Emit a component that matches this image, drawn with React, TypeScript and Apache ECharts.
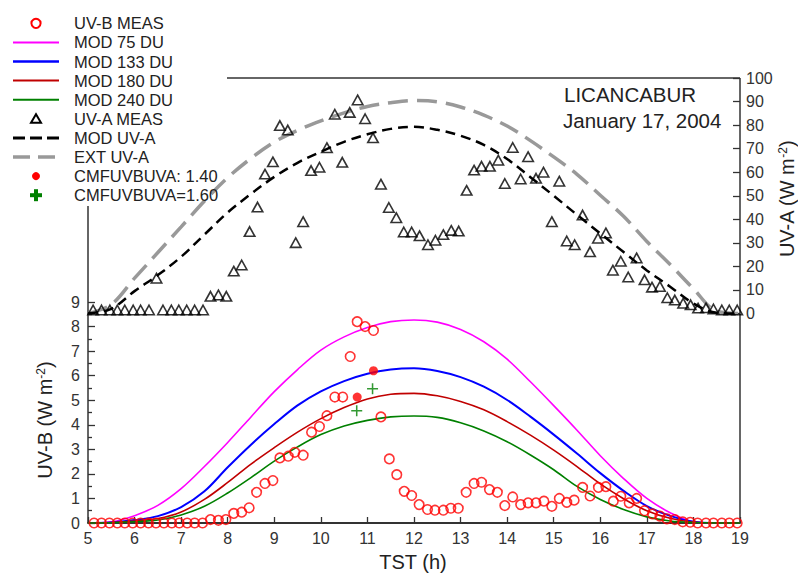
import React, { useEffect, useRef } from 'react';
import * as echarts from 'echarts';

const FF = 'Liberation Sans, Arial, Helvetica, sans-serif';

// ---------- DATA ----------
const xTickMin = 5;
const xTickMax = 19;

// UV-B measured (W m-2), time in TST hours
const uvbT = [5.13, 5.29, 5.46, 5.63, 5.79, 5.96, 6.13, 6.30, 6.46, 6.63, 6.80, 6.96, 7.13, 7.29, 7.46,
  7.63, 7.80, 7.96, 8.13, 8.30, 8.46, 8.62, 8.80, 8.97, 9.12, 9.30, 9.44, 9.62, 9.80, 9.97,
  10.13, 10.30, 10.47, 10.63, 10.78, 10.95, 11.13, 11.29, 11.47, 11.63, 11.79, 11.95,
  12.11, 12.29, 12.45, 12.63, 12.79, 12.95, 13.12, 13.29, 13.45, 13.62, 13.79, 13.95,
  14.12, 14.29, 14.45, 14.62, 14.79, 14.96, 15.12, 15.28, 15.44, 15.62, 15.78, 15.96,
  16.12, 16.28, 16.44, 16.62, 16.78, 16.95, 17.12, 17.28, 17.43, 17.60, 17.77, 17.93,
  18.09, 18.27, 18.43, 18.61, 18.77, 18.94];
const uvbV = [0, 0, 0, 0, 0, 0, 0, 0, 0, 0, 0, 0, 0, 0, 0,
  0.14, 0.11, 0.14, 0.39, 0.44, 0.62, 1.25, 1.61, 1.73, 2.65, 2.72, 2.88, 2.76, 3.7, 3.93,
  4.37, 5.13, 5.13, 6.78, 8.20, 8.00, 7.84, 4.32, 2.61, 1.97, 1.29, 1.12,
  0.75, 0.55, 0.52, 0.52, 0.6, 0.6, 1.25, 1.61, 1.66, 1.36, 1.25, 0.71,
  1.06, 0.75, 0.82, 0.82, 0.89, 0.68, 1.0, 0.84, 0.93, 1.45, 1.1, 1.45,
  1.48, 0.89, 1.09, 0.82, 1.0, 0.5, 0.37, 0.28, 0.17, 0.14, 0.05, 0.03,
  0, 0, 0, 0, 0, 0];

// UV-A measured (W m-2)
const uvaT = [5.11, 5.29, 5.47, 5.63, 5.79, 5.97, 6.13, 6.31, 6.47, 6.61, 6.79, 6.95, 7.12, 7.29, 7.47,
  7.63, 7.80, 7.97, 8.13, 8.30, 8.47, 8.64, 8.80, 8.97, 9.12, 9.29, 9.46, 9.62, 9.79, 9.97,
  10.13, 10.30, 10.46, 10.62, 10.79, 10.95, 11.12, 11.29, 11.46, 11.62, 11.78, 11.95,
  12.12, 12.30, 12.46, 12.63, 12.80, 12.96, 13.13, 13.29, 13.45, 13.63, 13.81, 13.95,
  14.12, 14.29, 14.45, 14.62, 14.78, 14.96, 15.12, 15.28, 15.45, 15.62, 15.78, 15.95,
  16.12, 16.27, 16.44, 16.60, 16.78, 16.95, 17.11, 17.28, 17.44, 17.60, 17.78, 17.94,
  18.10, 18.27, 18.43, 18.61, 18.77, 18.94];
const uvaV = [1.5, 1.5, 1.5, 1.5, 1.5, 1.5, 1.5, 1.5, 15, 1.5, 1.5, 1.5, 1.5, 1.5, 1.5,
  7.3, 7.9, 7.3, 18, 20.6, 34.8, 45.2, 59.2, 64.4, 79.8, 77.9, 30.1, 39, 60.7, 62.1,
  70.4, 84.6, 64.2, 85.4, 90.7, 82.7, 74.6, 54.9, 45, 40.7, 34.6, 34.6,
  33.0, 29.2, 31.1, 33.5, 35.3, 35.0, 52.3, 60.9, 62.5, 62.5, 65.1, 55.2,
  70.5, 57.1, 66.6, 57.4, 60.0, 39.0, 56.2, 30.8, 29.2, 41.8, 26.2, 32.0,
  34.2, 18.4, 22.2, 15.5, 23.6, 14.3, 11.2, 11.5, 6.7, 5.7, 4.4, 3.7,
  2.3, 2.4, 1.9, 1.5, 1.5, 1.5];

// Model curves (half-hourly)
const modT = [5, 5.5, 6, 6.5, 7, 7.5, 8, 8.5, 9, 9.5, 10, 10.5, 11, 11.5, 12, 12.5, 13, 13.5, 14, 14.5, 15, 15.5, 16, 16.5, 17, 17.5, 18, 18.5, 19];
const mod75 = [0, 0.05, 0.3, 0.72, 1.4, 2.3, 3.28, 4.32, 5.35, 6.25, 7.04, 7.58, 7.96, 8.2, 8.27, 8.18, 7.88, 7.38, 6.67, 5.75, 4.78, 3.78, 2.74, 1.81, 1.0, 0.42, 0.05, 0, 0];
const mod133 = [0, 0.02, 0.12, 0.28, 0.65, 1.29, 2.27, 3.19, 4.03, 4.79, 5.36, 5.78, 6.08, 6.25, 6.3, 6.19, 5.94, 5.55, 5.01, 4.33, 3.6, 2.83, 2.03, 1.31, 0.69, 0.29, 0.05, 0, 0];
const mod180 = [0, 0.02, 0.08, 0.18, 0.45, 0.96, 1.65, 2.4, 3.07, 3.7, 4.25, 4.7, 5.05, 5.24, 5.28, 5.18, 4.95, 4.61, 4.13, 3.58, 2.97, 2.3, 1.59, 0.99, 0.5, 0.19, 0.03, 0, 0];
const mod240 = [0, 0.01, 0.05, 0.12, 0.33, 0.68, 1.22, 1.85, 2.52, 3.1, 3.6, 3.95, 4.18, 4.32, 4.36, 4.3, 4.08, 3.75, 3.31, 2.77, 2.17, 1.49, 0.96, 0.55, 0.25, 0.08, 0.02, 0, 0];
const modUva = [0, 2, 9.5, 16.3, 24.1, 33.5, 42.9, 50.8, 58, 64, 68.7, 72.9, 76.1, 78.4, 79.3, 78, 75.5, 71.6, 65.6, 57.9, 50, 41.9, 34, 26.1, 18.3, 11.4, 4.3, 0.3, 0];
const extUva = [0, 3.8, 15, 25.9, 36.8, 47.8, 57.7, 65.9, 72.8, 77.8, 81.8, 85.2, 87.9, 89.5, 90.4, 89.9, 87.7, 84.2, 79.6, 73.4, 66.5, 59.1, 50.2, 41.3, 30.6, 20.8, 10.5, 1.0, 0];

// Derived UV-B from CMF ratios
const cmf140T = [10.78, 11.13];
const cmf140V = [5.13, 6.2];
const cmf160T = [10.77, 11.11];
const cmf160V = [4.57, 5.47];

const legendLabels = ['UV-B MEAS', 'MOD 75 DU', 'MOD 133 DU', 'MOD 180 DU', 'MOD 240 DU', 'UV-A MEAS', 'MOD UV-A', 'EXT UV-A', 'CMFUVBUVA: 1.40', 'CMFUVBUVA=1.60'];
const titleLines = ['LICANCABUR', 'January 17, 2004'];
const xTitle = 'TST (h)';

// ---------- HELPERS ----------
const zip = (t: number[], v: number[]) => t.map((x, i) => [x, v[i]]);

const PLUS = 'path://M4.3,0h1.4v4.3h4.3v1.4h-4.3v4.3h-1.4v-4.3h-4.3v-1.4h4.3z';

function buildOption() {
  const axisLabel = { fontSize: 16, color: '#333', fontFamily: FF };
  const tickStyle = { color: '#333', width: 1.3 };

  const lineSeries = (name: string, vals: number[], color: string, width: number, grid: number, type: any = 'solid') => ({
    name, type: 'line', xAxisIndex: grid, yAxisIndex: grid,
    data: zip(modT, vals), showSymbol: false, symbol: 'none', smooth: 0.35, clip: false,
    lineStyle: { color, width, type, cap: 'butt' }, z: 3, silent: true,
  });

  const graphic: any[] = [];
  // frame
  const frame = { stroke: '#333', lineWidth: 1.5 };
  graphic.push({ type: 'line', shape: { x1: 227, y1: 78, x2: 740, y2: 78 }, style: frame, z: 1 });
  graphic.push({ type: 'line', shape: { x1: 740, y1: 78, x2: 740, y2: 523 }, style: frame, z: 1 });
  graphic.push({ type: 'line', shape: { x1: 88, y1: 206, x2: 88, y2: 523 }, style: frame, z: 1 });

  // legend
  const lx = 36, lx1 = 13, lx2 = 59;
  legendLabels.forEach((label, i) => {
    const y = 23.3 + 19.1 * i;
    graphic.push({ type: 'text', x: 74, y, style: { text: label, fontSize: 16.5, fontFamily: FF, fill: '#222', verticalAlign: 'middle', align: 'left' }, z: 5 });
    const ln = (stroke: string, lineWidth: number, lineDash?: number[]) => ({ type: 'line', shape: { x1: lx1, y1: y, x2: lx2, y2: y }, style: { stroke, lineWidth, lineDash }, z: 5 });
    if (i === 0) graphic.push({ type: 'circle', shape: { cx: lx, cy: y, r: 4.6 }, style: { fill: 'none', stroke: '#ff0000', lineWidth: 2 }, z: 5 });
    if (i === 1) graphic.push(ln('#ff00ff', 2));
    if (i === 2) graphic.push(ln('#0000ff', 2.5));
    if (i === 3) graphic.push(ln('#c00000', 2));
    if (i === 4) graphic.push(ln('#008000', 2));
    if (i === 5) graphic.push({ type: 'polygon', shape: { points: [[31, y + 4], [41, y + 4], [36, y - 4.5]] }, style: { fill: 'none', stroke: '#000', lineWidth: 2 }, z: 5 });
    if (i === 6) graphic.push(ln('#000', 3, [12, 5]));
    if (i === 7) graphic.push(ln('#999', 3.5, [17, 8]));
    if (i === 8) graphic.push({ type: 'circle', shape: { cx: lx, cy: y, r: 4 }, style: { fill: '#ff0000' }, z: 5 });
    if (i === 9) {
      graphic.push({ type: 'rect', shape: { x: lx - 6, y: y - 2, width: 12, height: 4 }, style: { fill: '#008000' }, z: 5 });
      graphic.push({ type: 'rect', shape: { x: lx - 2, y: y - 6, width: 4, height: 12 }, style: { fill: '#008000' }, z: 5 });
    }
  });

  // annotation
  graphic.push({ type: 'text', x: 564, y: 94, style: { text: titleLines[0], fontSize: 20.5, fontFamily: FF, fill: '#222', verticalAlign: 'middle' }, z: 5 });
  graphic.push({ type: 'text', x: 563, y: 120, style: { text: titleLines[1], fontSize: 20.5, fontFamily: FF, fill: '#222', verticalAlign: 'middle' }, z: 5 });

  // axis titles
  const rich = {
    a: { fontSize: 20, fontFamily: FF, fill: '#222', color: '#222' },
    b: { fontSize: 12, fontFamily: FF, fill: '#222', color: '#222', verticalAlign: 'top' },
  };
  graphic.push({ type: 'text', x: 45, y: 420, rotation: Math.PI / 2, style: { text: '{a|UV-B (W m}{b|-2}{a|)}', rich, align: 'center', verticalAlign: 'middle' }, z: 5 });
  graphic.push({ type: 'text', x: 787, y: 199, rotation: Math.PI / 2, style: { text: '{a|UV-A (W m}{b|-2}{a|)}', rich, align: 'center', verticalAlign: 'middle' }, z: 5 });
  graphic.push({ type: 'text', x: 413, y: 562, style: { text: xTitle, fontSize: 20, fontFamily: FF, fill: '#222', align: 'center', verticalAlign: 'middle' }, z: 5 });

  return {
    animation: false,
    backgroundColor: '#fff',
    textStyle: { fontFamily: FF },
    grid: [
      { left: 88, width: 652, top: 302, height: 221 },
      { left: 88, width: 652, top: 78, height: 235.5 },
    ],
    xAxis: [
      {
        gridIndex: 0, type: 'value', min: xTickMin, max: xTickMax, interval: 1,
        axisLine: { show: true, lineStyle: { color: '#333', width: 2 } },
        axisTick: { show: true, inside: true, length: 6, lineStyle: tickStyle },
        axisLabel: { ...axisLabel, margin: 7 },
        splitLine: { show: false },
      },
      { gridIndex: 1, type: 'value', min: xTickMin, max: xTickMax, show: false },
    ],
    yAxis: [
      {
        gridIndex: 0, type: 'value', min: 0, max: 9, interval: 1, position: 'left',
        axisLine: { show: false },
        axisTick: { show: true, inside: true, length: 7, lineStyle: tickStyle },
        minorTick: { show: true, splitNumber: 2, length: 4, lineStyle: tickStyle },
        axisLabel: { ...axisLabel, margin: 8 },
        splitLine: { show: false }, minorSplitLine: { show: false },
      },
      {
        gridIndex: 1, type: 'value', min: 0, max: 100, interval: 10, position: 'right',
        axisLine: { show: false },
        axisTick: { show: true, inside: true, length: 7, lineStyle: tickStyle },
        axisLabel: { ...axisLabel, margin: 6 },
        splitLine: { show: false },
      },
    ],
    graphic,
    series: [
      lineSeries('MOD 75 DU', mod75, '#ff00ff', 1.6, 0),
      lineSeries('MOD 133 DU', mod133, '#0000ff', 2, 0),
      lineSeries('MOD 180 DU', mod180, '#c00000', 1.6, 0),
      lineSeries('MOD 240 DU', mod240, '#008000', 1.6, 0),
      lineSeries('EXT UV-A', extUva, '#999999', 3.5, 1, [20, 9]),
      lineSeries('MOD UV-A', modUva, '#000000', 2.5, 1, [10, 6]),
      {
        name: 'UV-B MEAS', type: 'scatter', xAxisIndex: 0, yAxisIndex: 0, data: zip(uvbT, uvbV),
        symbol: 'circle', symbolSize: 9.5, clip: false, z: 4, silent: true,
        itemStyle: { color: 'rgba(0,0,0,0)', borderColor: '#ff0000', borderWidth: 1.6 },
      },
      {
        name: 'CMFUVBUVA: 1.40', type: 'scatter', xAxisIndex: 0, yAxisIndex: 0, data: zip(cmf140T, cmf140V),
        symbol: 'circle', symbolSize: 9, z: 4, silent: true, itemStyle: { color: '#ff0000' },
      },
      {
        name: 'CMFUVBUVA=1.60', type: 'scatter', xAxisIndex: 0, yAxisIndex: 0, data: zip(cmf160T, cmf160V),
        symbol: PLUS, symbolSize: 11, z: 4, silent: true, itemStyle: { color: '#008000' },
      },
      {
        name: 'UV-A MEAS', type: 'scatter', xAxisIndex: 1, yAxisIndex: 1, data: zip(uvaT, uvaV),
        symbol: 'triangle', symbolSize: [10.5, 9.5], clip: false, z: 4, silent: true,
        itemStyle: { color: 'rgba(0,0,0,0)', borderColor: '#000', borderWidth: 1.6 },
      },
    ],
  };
}

export default function App() {
  const ref = useRef<HTMLDivElement>(null);
  useEffect(() => {
    if (!ref.current) return;
    const chart = echarts.init(ref.current, null, { renderer: 'svg' });
    chart.setOption(buildOption() as any);
    return () => chart.dispose();
  }, []);
  return <div ref={ref} style={{ position: 'fixed', left: 0, top: 0, width: 798, height: 574, background: '#fff' }} />;
}
